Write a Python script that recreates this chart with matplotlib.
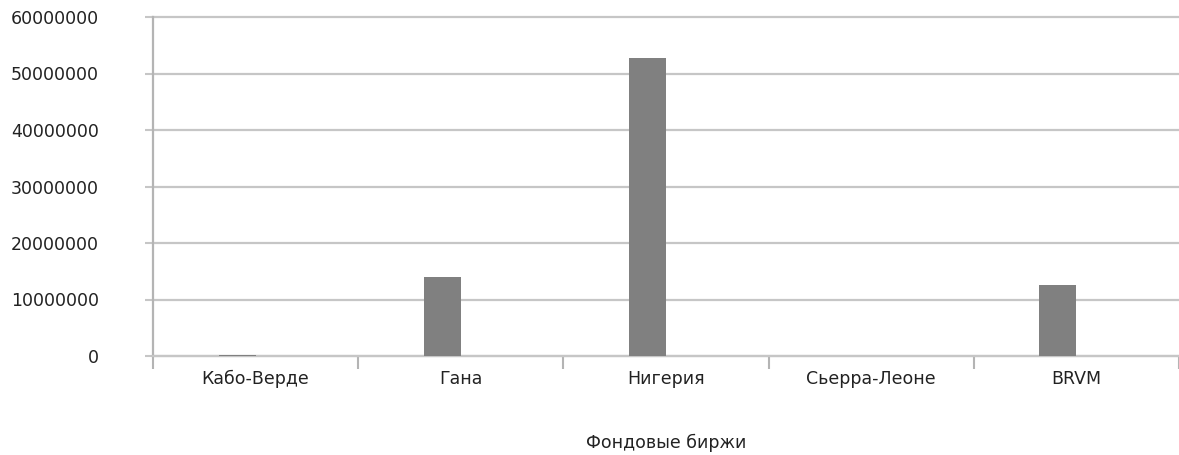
import matplotlib
matplotlib.use('Agg')
from matplotlib import pyplot as plt
import numpy as np

# data
exchanges = ['Кабо-Верде', 'Гана', 'Нигерия', 'Сьерра-Леоне', 'BRVM']
series_main = [200000, 14000000, 52800000, 0, 12600000]
series_second = [0, 0, 0, 0, 0]
y_ticks = [0, 10000000, 20000000, 30000000, 40000000, 50000000, 60000000]

grid_col = '#c6c6c6'
axis_col = '#b4b4b4'

fig = plt.figure(figsize=(11.79, 4.55), dpi=100)
ax = fig.add_axes([153 / 1179, 1 - 356 / 455, 1 - 153 / 1179, (356 - 17) / 455])

x = np.arange(len(exchanges))
w = 0.18
ax.bar(x - w / 2, series_main, w, color='#808080', zorder=3)
ax.bar(x + w / 2, series_second, w, color='#a0a0a0', zorder=3)

ax.set_xlim(-0.5, len(exchanges) - 0.5)
ax.set_ylim(0, 60000000)
ax.set_yticks(y_ticks)
ax.set_yticklabels([str(v) for v in y_ticks])
ax.yaxis.grid(True, color=grid_col, linewidth=1.6, zorder=0)
ax.set_axisbelow(True)
for gl in ax.get_ygridlines():
    gl.set_clip_on(False)

ax.set_xticks(x)
ax.set_xticklabels(exchanges)
ax.set_xticks(np.arange(-0.5, len(exchanges), 1.0), minor=True)
ax.tick_params(axis='x', which='major', length=0, pad=10, labelsize=12.5, labelcolor='#222222')
ax.tick_params(axis='x', which='minor', length=9, width=1.5, color=axis_col, direction='out')
ax.tick_params(axis='y', length=6, width=1.5, color=grid_col, pad=33, labelsize=12.5, labelcolor='#222222')

for s in ['top', 'right']:
    ax.spines[s].set_visible(False)
ax.spines['left'].set_color(axis_col)
ax.spines['left'].set_linewidth(1.6)
ax.spines['bottom'].set_color(grid_col)
ax.spines['bottom'].set_linewidth(1.6)

ax.set_xlabel('Фондовые биржи', fontsize=12.5, color='#222222', labelpad=33)

plt.savefig('out.png', dpi=100)
